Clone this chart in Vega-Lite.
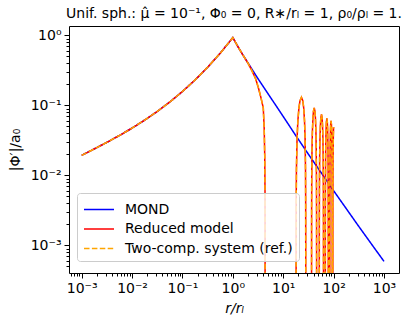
{
  "$schema": "https://vega.github.io/schema/vega-lite/v6.json",
  "width": 330,
  "height": 247,
  "autosize": {"type": "none"},
  "padding": {"left": 69, "top": 26, "right": 14, "bottom": 47},
  "background": "white",
  "title": {"text": "Unif. sph.: μ̂ = 10⁻¹, Φ₀ = 0, R∗/rₗ = 1, ρ₀/ρₗ = 1.", "font": "DejaVu Sans", "fontSize": 14, "fontWeight": "normal", "anchor": "middle", "offset": 5, "color": "black"},
  "config": {
    "view": {"stroke": "black", "strokeWidth": 1},
    "axis": {"domain": false, "grid": false, "labelFont": "DejaVu Sans", "labelFontSize": 14, "labelColor": "black", "titleFont": "DejaVu Sans", "titleFontSize": 14, "titleFontWeight": "normal", "titleColor": "black", "tickColor": "black", "tickWidth": 1}
  },
  "datasets": {
    "mond": [
      {"x": 0.001, "y": 0.01932}, {"x": 0.001778, "y": 0.02381}, {"x": 0.003162, "y": 0.02958}, {"x": 0.005623, "y": 0.03712},
      {"x": 0.01, "y": 0.0473}, {"x": 0.01778, "y": 0.06146}, {"x": 0.03162, "y": 0.08177}, {"x": 0.05623, "y": 0.1117},
      {"x": 0.1, "y": 0.1575}, {"x": 0.1778, "y": 0.2303}, {"x": 0.3162, "y": 0.3501}, {"x": 0.5623, "y": 0.5562},
      {"x": 1, "y": 0.927}, {"x": 1.259, "y": 0.692}, {"x": 1.585, "y": 0.525}, {"x": 2.0, "y": 0.403},
      {"x": 2.36, "y": 0.334}, {"x": 3.162, "y": 0.24}, {"x": 5.623, "y": 0.129}, {"x": 10, "y": 0.0692},
      {"x": 18.45, "y": 0.0355}, {"x": 31.62, "y": 0.02}, {"x": 100, "y": 0.00603}, {"x": 316.2, "y": 0.00186},
      {"x": 1000, "y": 0.000589}
    ],
    "model": [
      {"x": 0.001, "y": 0.01932}, {"x": 0.001778, "y": 0.02381}, {"x": 0.003162, "y": 0.02958}, {"x": 0.005623, "y": 0.03712},
      {"x": 0.01, "y": 0.0473}, {"x": 0.01778, "y": 0.06146}, {"x": 0.03162, "y": 0.08177}, {"x": 0.05623, "y": 0.1117},
      {"x": 0.1, "y": 0.1575}, {"x": 0.1778, "y": 0.2303}, {"x": 0.3162, "y": 0.3501}, {"x": 0.5623, "y": 0.5562},
      {"x": 1, "y": 0.927}, {"x": 1.259, "y": 0.692}, {"x": 1.585, "y": 0.523}, {"x": 2.0, "y": 0.40},
      {"x": 2.36, "y": 0.318}, {"x": 2.8, "y": 0.245}, {"x": 3.19, "y": 0.182}, {"x": 3.6, "y": 0.13},
      {"x": 4.02, "y": 0.092}, {"x": 4.2, "y": 0.045}, {"x": 4.3, "y": 0.018}, {"x": 4.35, "y": 0.006},
      {"x": 4.365, "y": 0.0015}, {"x": 4.372, "y": 0.000001},
      {"x": 18, "y": 0.000001}, {"x": 18.02, "y": 0.000816}, {"x": 18.1, "y": 0.00408}, {"x": 18.3, "y": 0.01223},
      {"x": 18.8, "y": 0.0323}, {"x": 19.5, "y": 0.059}, {"x": 20.5, "y": 0.0919}, {"x": 21.5, "y": 0.1158},
      {"x": 23, "y": 0.13}, {"x": 24.5, "y": 0.1158}, {"x": 25.5, "y": 0.0919}, {"x": 26.5, "y": 0.059},
      {"x": 27.2, "y": 0.0323}, {"x": 27.7, "y": 0.01223}, {"x": 27.9, "y": 0.00408}, {"x": 27.98, "y": 0.000816},
      {"x": 28, "y": 0.000001},
      {"x": 36.5, "y": 0.000001}, {"x": 36.519, "y": 0.000578}, {"x": 36.595, "y": 0.00289}, {"x": 36.785, "y": 0.00866},
      {"x": 37.26, "y": 0.02288}, {"x": 37.925, "y": 0.0418}, {"x": 38.875, "y": 0.065}, {"x": 39.825, "y": 0.082},
      {"x": 41.25, "y": 0.092}, {"x": 42.675, "y": 0.082}, {"x": 43.625, "y": 0.065}, {"x": 44.575, "y": 0.0418},
      {"x": 45.24, "y": 0.02288}, {"x": 45.715, "y": 0.00866}, {"x": 45.905, "y": 0.00289}, {"x": 45.981, "y": 0.000578},
      {"x": 46, "y": 0.000001},
      {"x": 52, "y": 0.000001}, {"x": 52.022, "y": 0.000465}, {"x": 52.11, "y": 0.00232}, {"x": 52.33, "y": 0.00696},
      {"x": 52.88, "y": 0.0184}, {"x": 53.65, "y": 0.0336}, {"x": 54.75, "y": 0.0523}, {"x": 55.85, "y": 0.0659},
      {"x": 57.5, "y": 0.074}, {"x": 59.15, "y": 0.0659}, {"x": 60.25, "y": 0.0523}, {"x": 61.35, "y": 0.0336},
      {"x": 62.12, "y": 0.0184}, {"x": 62.67, "y": 0.00696}, {"x": 62.89, "y": 0.00232}, {"x": 62.978, "y": 0.000465},
      {"x": 63, "y": 0.000001},
      {"x": 68.5, "y": 0.000001}, {"x": 68.52, "y": 0.000408}, {"x": 68.6, "y": 0.00204}, {"x": 68.8, "y": 0.00612},
      {"x": 69.3, "y": 0.01617}, {"x": 70, "y": 0.0295}, {"x": 71, "y": 0.046}, {"x": 72, "y": 0.0579},
      {"x": 73.5, "y": 0.065}, {"x": 75, "y": 0.0579}, {"x": 76, "y": 0.046}, {"x": 77, "y": 0.0295},
      {"x": 77.7, "y": 0.01617}, {"x": 78.2, "y": 0.00612}, {"x": 78.4, "y": 0.00204}, {"x": 78.48, "y": 0.000408},
      {"x": 78.5, "y": 0.000001},
      {"x": 84, "y": 0.000001}, {"x": 84.02, "y": 0.000377}, {"x": 84.1, "y": 0.00188}, {"x": 84.3, "y": 0.00565},
      {"x": 84.8, "y": 0.01492}, {"x": 85.5, "y": 0.0272}, {"x": 86.5, "y": 0.0424}, {"x": 87.5, "y": 0.0535},
      {"x": 89, "y": 0.06}, {"x": 90.5, "y": 0.0535}, {"x": 91.5, "y": 0.0424}, {"x": 92.5, "y": 0.0272},
      {"x": 93.2, "y": 0.01492}, {"x": 93.7, "y": 0.00565}, {"x": 93.9, "y": 0.00188}, {"x": 93.98, "y": 0.000377},
      {"x": 94, "y": 0.000001},
      {"x": 96.5, "y": 0.000001}, {"x": 96.52, "y": 0.000345}, {"x": 96.6, "y": 0.00173}, {"x": 96.8, "y": 0.00518},
      {"x": 97.3, "y": 0.01368}, {"x": 98, "y": 0.025}, {"x": 99, "y": 0.0389}, {"x": 100, "y": 0.049}
    ]
  },
  "resolve": {"axis": {"x": "independent", "y": "independent"}},
  "layer": [
    {
      "data": {"name": "mond"},
      "mark": {"type": "line", "clip": true, "strokeWidth": 1.5},
      "encoding": {
        "x": {"field": "x", "type": "quantitative",
          "scale": {"type": "log", "domain": [0.00056, 1986], "nice": false, "zero": false},
          "axis": {"orient": "bottom", "values": [0.001, 0.01, 0.1, 1, 10, 100, 1000], "tickSize": 5, "labelPadding": 3,
            "labelExpr": "datum.value < 0.005 ? '10⁻³' : datum.value < 0.05 ? '10⁻²' : datum.value < 0.5 ? '10⁻¹' : datum.value < 5 ? '10⁰' : datum.value < 50 ? '10¹' : datum.value < 500 ? '10²' : '10³'",
            "title": "r/rₗ", "titleFontStyle": "italic", "titlePadding": 6}},
        "y": {"field": "y", "type": "quantitative",
          "scale": {"type": "log", "domain": [0.000402, 1.36], "nice": false, "zero": false},
          "axis": {"orient": "left", "values": [0.001, 0.01, 0.1, 1], "tickSize": 5, "labelPadding": 3,
            "labelExpr": "datum.value < 0.005 ? '10⁻³' : datum.value < 0.05 ? '10⁻²' : datum.value < 0.5 ? '10⁻¹' : '10⁰'",
            "title": "|Φ′|/a₀", "titlePadding": 8}},
        "color": {"datum": "MOND", "type": "nominal",
          "scale": {"domain": ["MOND", "Reduced model", "Two-comp. system (ref.)"], "range": ["#0000ff", "#ff0000", "#ffa500"]},
          "legend": {"title": null, "orient": "none", "legendX": 8, "legendY": 167, "fillColor": "rgba(255,255,255,0.8)", "strokeColor": "#cccccc", "cornerRadius": 3, "padding": 5.5, "symbolType": "M-1.5,0H1.5", "symbolSize": 400, "symbolOffset": 5.5, "symbolStrokeWidth": 1.5, "labelFont": "DejaVu Sans", "labelFontSize": 14, "labelColor": "black", "labelOffset": 15, "labelLimit": 400, "rowPadding": 1.5}},
        "strokeDash": {"datum": "MOND", "type": "nominal",
          "scale": {"domain": ["MOND", "Reduced model", "Two-comp. system (ref.)"], "range": [[1, 0], [1, 0], [5.5, 2.4]]},
          "legend": {"title": null, "orient": "none", "legendX": 8, "legendY": 167, "fillColor": "rgba(255,255,255,0.8)", "strokeColor": "#cccccc", "cornerRadius": 3, "padding": 5.5, "symbolType": "M-1.5,0H1.5", "symbolSize": 400, "symbolOffset": 5.5, "symbolStrokeWidth": 1.5, "labelFont": "DejaVu Sans", "labelFontSize": 14, "labelColor": "black", "labelOffset": 15, "labelLimit": 400, "rowPadding": 1.5}}
      }
    },
    {
      "data": {"name": "model"},
      "mark": {"type": "line", "clip": true, "strokeWidth": 1.5},
      "encoding": {
        "x": {"field": "x", "type": "quantitative",
          "axis": {"orient": "bottom", "values": [0.0006, 0.0007, 0.0008, 0.0009, 0.002, 0.003, 0.004, 0.005, 0.006, 0.007, 0.008, 0.009, 0.02, 0.03, 0.04, 0.05, 0.06, 0.07, 0.08, 0.09, 0.2, 0.3, 0.4, 0.5, 0.6, 0.7, 0.8, 0.9, 2, 3, 4, 5, 6, 7, 8, 9, 20, 30, 40, 50, 60, 70, 80, 90, 200, 300, 400, 500, 600, 700, 800, 900],
            "tickSize": 3, "labels": false, "title": null}},
        "y": {"field": "y", "type": "quantitative",
          "axis": {"orient": "left", "values": [0.0005, 0.0006, 0.0007, 0.0008, 0.0009, 0.002, 0.003, 0.004, 0.005, 0.006, 0.007, 0.008, 0.009, 0.02, 0.03, 0.04, 0.05, 0.06, 0.07, 0.08, 0.09, 0.2, 0.3, 0.4, 0.5, 0.6, 0.7, 0.8, 0.9],
            "tickSize": 3, "labels": false, "title": null}},
        "color": {"datum": "Reduced model", "type": "nominal"},
        "strokeDash": {"datum": "Reduced model", "type": "nominal"}
      }
    },
    {
      "data": {"name": "model"},
      "mark": {"type": "line", "clip": true, "strokeWidth": 1.5},
      "encoding": {
        "x": {"field": "x", "type": "quantitative", "axis": null},
        "y": {"field": "y", "type": "quantitative", "axis": null},
        "color": {"datum": "Two-comp. system (ref.)", "type": "nominal"},
        "strokeDash": {"datum": "Two-comp. system (ref.)", "type": "nominal"}
      }
    }
  ]
}
